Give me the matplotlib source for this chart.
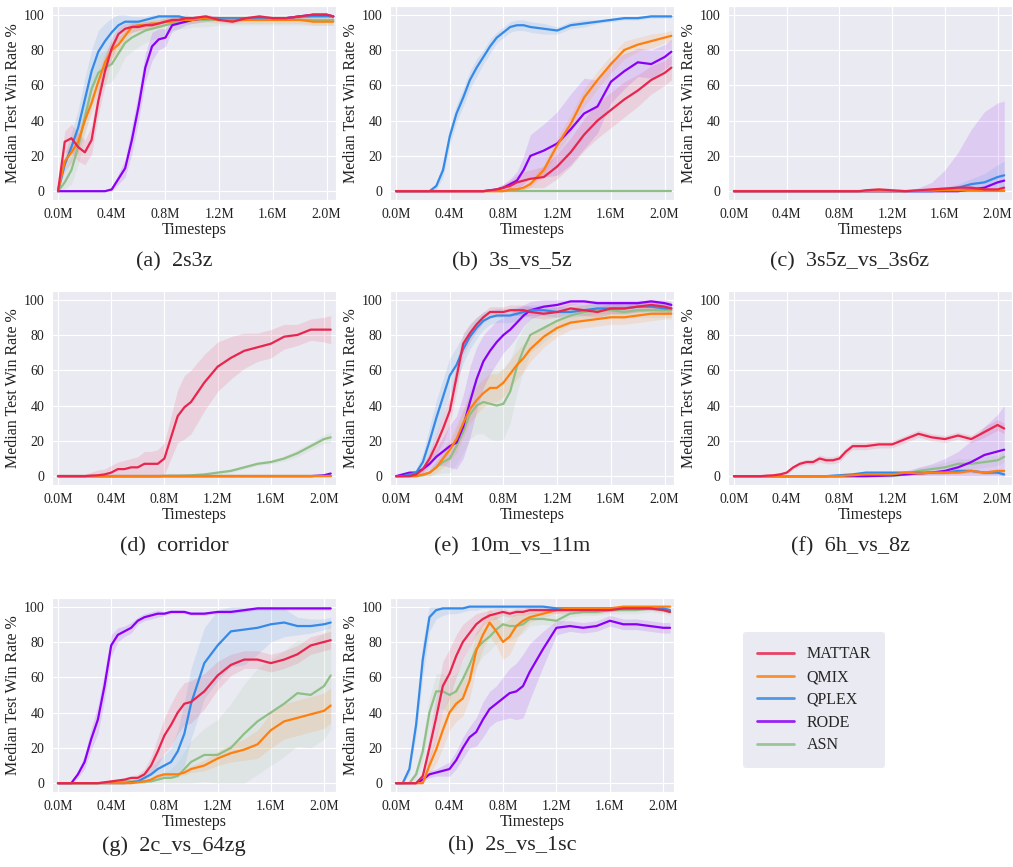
import numpy as np
import matplotlib.pyplot as plt
import seaborn as sns
from matplotlib.lines import Line2D
from matplotlib.ticker import FuncFormatter

sns.set_style('darkgrid')
plt.rcParams['font.family'] = ['Liberation Serif', 'DejaVu Serif']

methods = ['MATTAR', 'QMIX', 'QPLEX', 'RODE', 'ASN']
colors = {'MATTAR': '#E8254F', 'QMIX': '#FF7F0E', 'QPLEX': '#348AE6',
          'RODE': '#8A00F5', 'ASN': '#8FBF86'}
draw_order = ['ASN', 'RODE', 'QPLEX', 'QMIX', 'MATTAR']

# timesteps (millions)
T = [0, .05, .1, .15, .2, .25, .3, .35, .4, .45, .5, .55, .6, .65, .7, .75,
     .8, .85, .9, .95, 1.0, 1.1, 1.2, 1.3, 1.4, 1.5, 1.6, 1.7, 1.8, 1.9, 2.0, 2.05]

# (a) 2s3z
med_2s3z = {
    'MATTAR': [0, 28, 30, 25, 22, 29, 51, 68, 81, 89, 92, 93, 93, 94, 94, 95, 96, 97, 97, 98, 98, 99, 97, 96, 98, 99, 98, 98, 99, 100, 100, 99],
    'QMIX': [0, 17, 22, 28, 40, 50, 62, 73, 80, 83, 88, 93, 94, 94, 95, 95, 96, 96, 97, 97, 97, 98, 97, 97, 97, 97, 97, 97, 97, 96, 96, 96],
    'QPLEX': [0, 15, 25, 36, 52, 68, 79, 85, 90, 94, 96, 96, 96, 97, 98, 99, 99, 99, 99, 98, 98, 98, 98, 98, 98, 98, 98, 98, 99, 99, 99, 99],
    'RODE': [0, 0, 0, 0, 0, 0, 0, 0, 1, 7, 13, 29, 48, 70, 82, 86, 87, 94, 95, 96, 97, 98, 98, 97, 98, 98, 98, 98, 99, 100, 100, 99],
    'ASN': [0, 5, 12, 25, 42, 58, 67, 70, 72, 78, 84, 87, 89, 91, 92, 93, 94, 95, 96, 96, 97, 97, 97, 97, 97, 97, 97, 97, 97, 97, 97, 97],
}
band_2s3z = {
    'MATTAR': [0, 6, 8, 8, 7, 8, 8, 8, 6, 4, 3, 3, 2, 2, 2, 2, 2, 2, 2, 2, 1, 1, 1, 1, 1, 1, 1, 1, 1, 1, 1, 1],
    'QMIX': [0, 5, 6, 6, 6, 6, 6, 5, 5, 4, 3, 3, 3, 2, 2, 2, 2, 2, 2, 2, 2, 2, 2, 2, 2, 2, 2, 2, 2, 2, 2, 2],
    'QPLEX': [0, 5, 8, 10, 12, 12, 12, 10, 8, 6, 4, 3, 3, 2, 2, 2, 2, 2, 1, 1, 1, 1, 1, 1, 1, 1, 1, 1, 1, 1, 1, 1],
    'RODE': [0, 0, 0, 0, 0, 0, 0, 0, 1, 3, 5, 8, 8, 8, 8, 6, 5, 3, 3, 2, 2, 2, 1, 1, 1, 1, 1, 1, 1, 1, 1, 1],
    'ASN': [0, 4, 8, 10, 10, 10, 10, 10, 10, 10, 8, 8, 7, 7, 6, 6, 5, 5, 4, 4, 4, 4, 3, 3, 3, 3, 3, 3, 3, 3, 3, 3],
}

# (b) 3s_vs_5z
med_3s5z = {
    'MATTAR': [0] * 14 + [0.5, 1, 2, 3, 5, 6, 7, 8, 14, 22, 32, 40, 46, 52, 57, 63, 67, 70],
    'QMIX': [0] * 16 + [0, 1, 1, 2, 4, 12, 26, 38, 53, 63, 72, 80, 83, 85, 87, 88],
    'QPLEX': [0, 0, 0, 0, 0, 0, 3, 12, 31, 44, 53, 63, 70, 76, 82, 87, 90, 93, 94, 94, 93, 92, 91, 94, 95, 96, 97, 98, 98, 99, 99, 99],
    'RODE': [0] * 14 + [0.5, 1, 2, 4, 6, 12, 20, 23, 27, 35, 44, 48, 62, 68, 73, 72, 76, 79],
    'ASN': [0] * 32,
}
band_3s5z = {
    'MATTAR': [0] * 14 + [0, 1, 2, 3, 4, 5, 5, 6, 7, 8, 9, 10, 10, 10, 9, 8, 7, 7],
    'QMIX': [0] * 16 + [0, 1, 1, 1, 2, 3, 4, 5, 5, 5, 5, 5, 4, 4, 3, 3],
    'QPLEX': [0, 0, 0, 0, 0, 0, 2, 4, 5, 5, 5, 5, 5, 4, 4, 3, 3, 3, 3, 3, 3, 3, 2, 2, 2, 1, 1, 1, 1, 1, 1, 1],
    'RODE': [0] * 14 + [0, 1, 2, 3, 5, 8, 12, 15, 18, 20, 20, 15, 12, 10, 8, 8, 7, 7],
    'ASN': [0] * 32,
}

# (c) 3s5z_vs_3s6z
med_3s6z = {
    'MATTAR': [0] * 20 + [0.5, 1, 0.5, 0, 0.5, 1, 1.5, 2, 2, 1, 1, 2],
    'QMIX': [0] * 24 + [0.3, 0.5, 0.5, 0.5, 0.5, 0.3, 0.2, 0.2],
    'QPLEX': [0] * 26 + [1, 2, 4, 5, 8, 9],
    'RODE': [0] * 28 + [1, 2, 5, 6],
    'ASN': [0] * 32,
}
band_3s6z = {
    'MATTAR': [0] * 20 + [1] * 12,
    'QMIX': [0] * 32,
    'QPLEX': [0] * 26 + [1, 2, 3, 5, 7, 8],
    'RODE': [0] * 24 + [2, 5, 12, 22, 34, 43, 45, 45],
    'ASN': [0] * 32,
}

# (d) corridor
med_corr = {
    'MATTAR': [0, 0, 0, 0, 0, 0.3, 0.5, 1, 2, 4, 4, 5, 5, 7, 7, 7, 10, 22, 34, 39, 42, 53, 62, 67, 71, 73, 75, 79, 80, 83, 83, 83],
    'QMIX': [0] * 32,
    'QPLEX': [0] * 32,
    'RODE': [0] * 30 + [0.5, 1.5],
    'ASN': [0] * 16 + [0.2, 0.3, 0.3, 0.4, 0.5, 1, 2, 3, 5, 7, 8, 10, 13, 17, 21, 22],
}
band_corr = {
    'MATTAR': [0, 0, 0, 0, 1, 2, 3, 3, 4, 4, 5, 5, 6, 7, 7, 8, 9, 12, 15, 18, 18, 16, 14, 12, 10, 8, 8, 7, 6, 6, 7, 8],
    'QMIX': [0] * 32,
    'QPLEX': [0] * 32,
    'RODE': [0] * 32,
    'ASN': [0] * 21 + [0.5, 1, 1, 1, 1, 1, 1.5, 2, 2, 2.5, 3],
}

# (e) 10m_vs_11m
med_10m = {
    'MATTAR': [0, 0, 0, 1, 4, 10, 18, 27, 37, 56, 75, 81, 86, 90, 93, 93, 93, 94, 94, 94, 93, 92, 93, 95, 94, 93, 95, 95, 96, 97, 96, 95],
    'QMIX': [0, 0, 0, 0, 1, 2, 5, 10, 15, 21, 30, 38, 43, 47, 50, 50, 53, 58, 63, 67, 72, 79, 84, 87, 88, 89, 90, 90, 91, 92, 92, 92],
    'QPLEX': [0, 0, 1, 2, 8, 20, 33, 45, 57, 63, 72, 79, 84, 88, 90, 91, 91, 91, 92, 93, 94, 94, 93, 93, 94, 95, 95, 95, 96, 96, 95, 95],
    'RODE': [0, 1, 2, 2, 4, 7, 11, 14, 17, 19, 28, 42, 55, 65, 71, 76, 80, 83, 87, 91, 94, 96, 97, 99, 99, 98, 98, 98, 98, 99, 98, 97],
    'ASN': [0, 0, 0, 0, 0.5, 2, 5, 8, 10, 17, 25, 35, 40, 42, 41, 40, 41, 48, 62, 72, 80, 84, 88, 91, 93, 94, 94, 93, 94, 94, 94, 94],
}
band_10m = {
    'MATTAR': [0, 0, 0, 1, 2, 4, 6, 8, 8, 8, 6, 5, 4, 3, 3, 3, 3, 3, 3, 3, 3, 3, 3, 3, 3, 3, 3, 3, 3, 3, 3, 3],
    'QMIX': [0, 0, 0, 0, 1, 2, 3, 5, 6, 8, 8, 8, 8, 8, 8, 8, 8, 8, 8, 8, 7, 6, 5, 4, 4, 4, 4, 4, 4, 4, 3, 3],
    'QPLEX': [0, 0, 1, 2, 5, 8, 10, 10, 10, 10, 8, 7, 6, 5, 4, 4, 4, 4, 4, 3, 3, 3, 3, 3, 3, 3, 3, 3, 3, 3, 3, 3],
    'RODE': [0, 0, 1, 1, 2, 3, 5, 8, 12, 15, 18, 20, 18, 15, 13, 12, 10, 9, 8, 6, 5, 4, 3, 2, 2, 2, 2, 2, 2, 2, 2, 2],
    'ASN': [0, 0, 0, 0, 0, 2, 4, 6, 8, 10, 12, 14, 16, 18, 20, 20, 20, 18, 15, 12, 10, 8, 6, 5, 4, 4, 4, 4, 4, 4, 4, 4],
}

# (f) 6h_vs_8z
med_6h = {
    'MATTAR': [0, 0, 0, 0, 0, 0.3, 0.5, 1, 2, 5, 7, 8, 8, 10, 9, 9, 10, 14, 17, 17, 17, 18, 18, 21, 24, 22, 21, 23, 21, 25, 29, 27],
    'QMIX': [0] * 17 + [0.3, 0.5, 0.8, 1, 1, 1, 2, 1.5, 2, 2, 2, 3, 2, 3, 3],
    'QPLEX': [0] * 15 + [0.3, 0.5, 0.8, 1, 1.5, 2, 2, 2, 2, 2, 2, 2, 3, 3, 2, 2, 1],
    'RODE': [0] * 21 + [0.2, 0.5, 1, 1.5, 2, 3, 5, 8, 12, 14, 15],
    'ASN': [0] * 23 + [1, 3, 4, 5, 7, 7, 8, 9, 11],
}
band_6h = {
    'MATTAR': [0, 0, 0, 0, 0, 0.5, 1, 1, 1, 1, 1.5, 1.5, 1.5, 2, 2, 2, 2, 2, 2, 2, 2, 2, 2, 2, 2, 2, 2, 2, 2, 3, 3, 3],
    'QMIX': [0] * 17 + [0.3, 0.5, 0.5, 1] + [1] * 11,
    'QPLEX': [0] * 15 + [0.3, 0.5, 0.5, 1, 1, 1] + [1] * 11,
    'RODE': [0] * 21 + [0.5, 1, 2, 3.5, 5, 7, 9, 12, 16, 21, 25],
    'ASN': [0] * 23 + [1, 2, 2, 3, 3, 3, 3, 3, 3],
}

# (g) 2c_vs_64zg
med_2c = {
    'MATTAR': [0, 0, 0, 0, 0, 0, 0, 0.5, 1, 1.5, 2, 3, 3, 5, 10, 18, 27, 33, 40, 45, 46, 52, 61, 67, 70, 70, 68, 70, 73, 78, 80, 81],
    'QMIX': [0] * 12 + [0.5, 1, 2, 4, 5, 5, 5, 6, 8, 10, 14, 17, 19, 22, 30, 35, 37, 39, 41, 44],
    'QPLEX': [0] * 11 + [0.5, 1, 3, 5, 8, 10, 12, 18, 28, 45, 68, 78, 86, 87, 88, 90, 91, 89, 89, 90, 91],
    'RODE': [0, 0, 0, 5, 12, 25, 36, 55, 78, 84, 86, 88, 92, 94, 95, 96, 96, 97, 97, 97, 96, 96, 97, 97, 98, 99, 99, 99, 99, 99, 99, 99],
    'ASN': [0] * 7 + [0.3, 0.5, 0.5, 1, 1, 1, 1, 1, 2, 3, 3, 4, 8, 12, 16, 16, 20, 28, 35, 40, 45, 51, 50, 55, 61],
}
band_2c = {
    'MATTAR': [0, 0, 0, 0, 0, 0, 0, 0.5, 1, 1, 1, 1, 2, 3, 5, 8, 10, 12, 12, 12, 12, 10, 8, 6, 5, 5, 5, 5, 5, 5, 5, 5],
    'QMIX': [0] * 12 + [0.5, 1, 1, 1, 1, 1, 1, 1.5, 2, 3, 4, 5, 6, 8, 10, 10, 10, 10, 10, 10],
    'QPLEX': [0] * 11 + [1, 2, 3, 4, 5, 6, 8, 12, 18, 20, 20, 20, 20, 20, 15, 10, 8, 5, 4, 3, 3],
    'RODE': [0, 0, 0, 2, 4, 6, 8, 8, 6, 4, 3, 3, 2, 2, 2, 2, 1, 1, 1, 1, 1, 1, 1, 1, 1, 1, 1, 1, 1, 1, 1, 1],
    'ASN': [0] * 7 + [0.3, 0.5, 0.5, 1, 1, 1, 1, 1, 2, 3, 5, 8, 10, 12, 15, 20, 25, 28, 30, 30, 30, 30, 30, 30, 30],
}

# (h) 2s_vs_1sc
med_2s1sc = {
    'MATTAR': [0, 0, 0, 0, 4, 20, 37, 55, 62, 72, 80, 85, 90, 93, 95, 96, 97, 96, 97, 97, 98, 98, 98, 98, 98, 98, 98, 99, 99, 99, 98, 97],
    'QMIX': [0, 0, 0, 0, 0, 10, 19, 30, 40, 45, 48, 58, 75, 84, 91, 86, 80, 83, 89, 92, 94, 96, 98, 99, 99, 99, 99, 100, 100, 100, 100, 100],
    'QPLEX': [0, 0, 8, 33, 70, 94, 98, 99, 99, 99, 99, 100, 100, 100, 100, 100, 100, 100, 100, 100, 100, 100, 99, 99, 99, 99, 99, 99, 99, 99, 99, 98],
    'RODE': [0, 0, 0, 0, 2, 5, 6, 7, 8, 13, 20, 26, 29, 36, 42, 45, 48, 51, 52, 55, 63, 76, 88, 89, 88, 89, 92, 90, 90, 89, 88, 88],
    'ASN': [0, 0, 0, 5, 18, 40, 52, 52, 50, 52, 59, 67, 76, 80, 83, 87, 90, 89, 89, 90, 93, 93, 92, 96, 97, 97, 98, 98, 98, 99, 98, 97],
}
band_2s1sc = {
    'MATTAR': [0, 0, 0, 0, 3, 8, 12, 14, 14, 12, 10, 8, 6, 4, 3, 3, 2, 2, 2, 2, 2, 2, 2, 2, 2, 2, 1, 1, 1, 1, 1, 1],
    'QMIX': [0, 0, 0, 0, 1, 5, 8, 10, 10, 10, 10, 10, 10, 8, 8, 8, 10, 10, 8, 5, 3, 2, 2, 1, 1, 1, 1, 1, 1, 1, 1, 1],
    'QPLEX': [0, 0, 3, 6, 10, 8, 5, 4, 3, 3, 2, 2, 2, 1, 1, 1, 1, 1, 1, 1, 1, 1, 1, 1, 1, 1, 1, 1, 1, 1, 1, 1],
    'RODE': [0, 0, 0, 0, 1, 2, 2, 3, 4, 5, 6, 6, 8, 10, 10, 10, 12, 14, 16, 18, 16, 10, 4, 3, 3, 3, 3, 3, 3, 3, 3, 3],
    'ASN': [0, 0, 0, 3, 6, 8, 10, 10, 10, 10, 10, 10, 10, 8, 8, 8, 8, 8, 6, 5, 4, 3, 3, 2, 2, 2, 2, 2, 2, 2, 2, 2],
}

panels = [
    ('(a)  2s3z', med_2s3z, band_2s3z),
    ('(b)  3s_vs_5z', med_3s5z, band_3s5z),
    ('(c)  3s5z_vs_3s6z', med_3s6z, band_3s6z),
    ('(d)  corridor', med_corr, band_corr),
    ('(e)  10m_vs_11m', med_10m, band_10m),
    ('(f)  6h_vs_8z', med_6h, band_6h),
    ('(g)  2c_vs_64zg', med_2c, band_2c),
    ('(h)  2s_vs_1sc', med_2s1sc, band_2s1sc),
]
x_right = [2.07, 2.07, 2.11, 2.09, 2.07, 2.11, 2.09, 2.08]

fig = plt.figure(figsize=(10.13, 8.67), dpi=100)
col_left = [0.0513, 0.385, 0.7187]
row_bottom = [0.7693, 0.4406, 0.0865]
cap_x = [0.1718, 0.5054, 0.8391]
cap_y = [0.6978, 0.3691, 0.0242]

t = np.array(T)
for i, (caption, med, band) in enumerate(panels):
    r, c = divmod(i, 3)
    ax = fig.add_axes([col_left[c], row_bottom[r], 0.2804, 0.224])
    for m in draw_order:
        y = np.array(med[m], dtype=float)
        b = np.array(band[m], dtype=float)
        ax.fill_between(t, np.clip(y - b, 0, 100), np.clip(y + b, 0, 100),
                        color=colors[m], alpha=0.13, lw=0)
        ax.plot(t, y, color=colors[m], lw=1.6)
    ax.set_xlim(-0.045, x_right[i])
    ax.set_ylim(-5, 105)
    ax.set_xticks([0, 0.4, 0.8, 1.2, 1.6, 2.0])
    ax.xaxis.set_major_formatter(FuncFormatter(lambda v, p: f'{v:.1f}M'))
    ax.set_yticks([0, 20, 40, 60, 80, 100])
    ax.tick_params(labelsize=10, pad=2, colors='#222222')
    ax.set_xlabel('Timesteps', fontsize=11.5, labelpad=1, color='#222222')
    ax.set_ylabel('Median Test Win Rate %', fontsize=11.5, labelpad=2, color='#222222')
    fig.text(cap_x[c], cap_y[r], caption, fontsize=16, ha='center', va='center')

handles = [Line2D([], [], color=colors[m], lw=2, alpha=0.85) for m in methods]
leg = fig.legend(handles, methods, loc='upper left', bbox_to_anchor=(0.733, 0.271),
                 fontsize=11.5, frameon=True, facecolor='#EAEAF2', edgecolor='none',
                 fancybox=True, handlelength=2.3, labelspacing=0.42,
                 borderpad=0.9, handletextpad=0.8, borderaxespad=0)
leg.get_frame().set_alpha(1)

fig.savefig('out.png', dpi=100)
